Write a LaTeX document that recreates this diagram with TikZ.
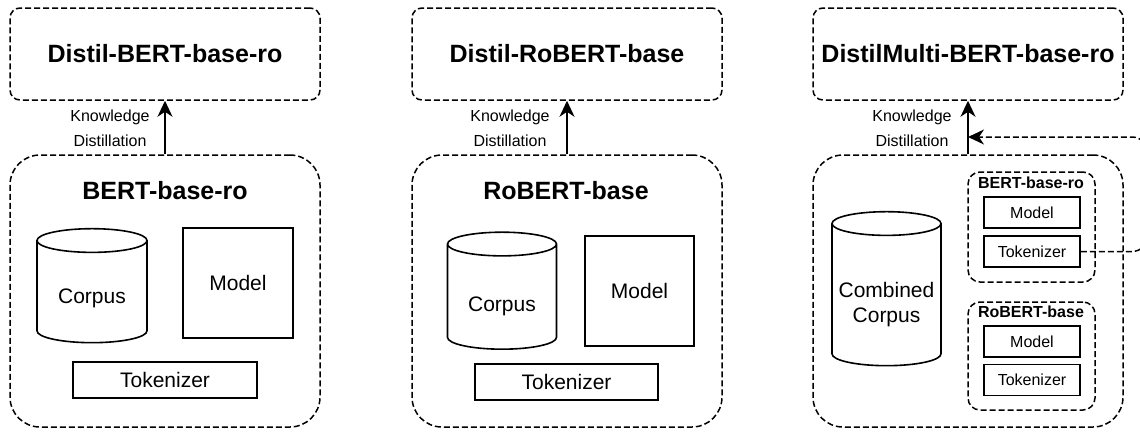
\documentclass[tikz,border=0pt]{standalone}
\usepackage{fontspec}
\setmainfont{Liberation Sans}
\usetikzlibrary{arrows.meta,positioning,shapes.geometric}

\tikzset{
  dashbox/.style={draw, dash pattern=on 6pt off 3pt, line width=1.5pt, inner sep=0pt},
  solidbox/.style={draw, line width=1.6pt, inner sep=0pt},
  kdarrow/.style={-{Stealth[length=16pt,width=15pt,inset=5pt]}, line width=1.8pt},
  bigtitle/.style={font=\fontsize{25}{30}\selectfont\bfseries},
  smalltitle/.style={font=\fontsize{16}{19}\selectfont\bfseries},
  bigtext/.style={font=\fontsize{21}{25}\selectfont},
  smalltext/.style={font=\fontsize{16}{19}\selectfont},
  dbstore/.style={solidbox, cylinder, shape border rotate=90, aspect=0.35, bigtext},
}

\begin{document}
\begin{tikzpicture}[x=1pt, y=-1pt]
\useasboundingbox (0,0) rectangle (1140,432);

% Teacher / student boxes
\node[dashbox, rounded corners=10pt, minimum width=310pt, minimum height=92pt, bigtitle] (dst1) at (165,54) {Distil-BERT-base-ro};
\node[dashbox, rounded corners=10pt, minimum width=310pt, minimum height=92pt, bigtitle] (dst2) at (567,54) {Distil-RoBERT-base};
\node[dashbox, rounded corners=10pt, minimum width=310pt, minimum height=92pt, bigtitle] (dst3) at (968,54) {DistilMulti-BERT-base-ro};

\node[dashbox, rounded corners=30pt, minimum width=310pt, minimum height=272pt] (src1) at (165,291) {};
\node[dashbox, rounded corners=30pt, minimum width=310pt, minimum height=272pt] (src2) at (567,291) {};
\node[dashbox, rounded corners=30pt, minimum width=310pt, minimum height=272pt] (src3) at (968,291) {};

% Panel 1
\node[bigtitle] (ttl1) at (165,191) {BERT-base-ro};
\node[dbstore, minimum width=110pt, minimum height=114pt, label={[bigtext, yshift=-6pt]center:Corpus}] (corpus1) at (92,292) {\phantom{Corpus}};
\node[solidbox, minimum width=110pt, minimum height=110pt, bigtext] (model1) at (238,283) {Model};
\node[solidbox, minimum width=184pt, minimum height=36pt, bigtext] (tok1) at (165,380) {Tokenizer};

% Panel 2
\node[bigtitle] (ttl2) at (566,191) {RoBERT-base};
\node[dbstore, minimum width=109pt, minimum height=117pt, label={[bigtext, yshift=-9pt]center:Corpus}] (corpus2) at (502,297) {\phantom{Corpus}};
\node[solidbox, minimum width=109pt, minimum height=110pt, bigtext] (model2) at (639.5,291) {Model};
\node[solidbox, minimum width=183pt, minimum height=36pt, bigtext] (tok2) at (566.5,382) {Tokenizer};

% Panel 3
\node[dbstore, minimum width=109pt, minimum height=154pt, label={[bigtext, align=center, yshift=-10pt]center:Combined\\Corpus}] (corpus3) at (886.5,295) {\phantom{Corpus}};
\node[dashbox, rounded corners=12pt, minimum width=127pt, minimum height=110pt] (grp1) at (1031.5,227) {};
\node[smalltitle] (gttl1) at (1031,183) {BERT-base-ro};
\node[solidbox, minimum width=96pt, minimum height=31pt, smalltext] (m31) at (1032,212.5) {Model};
\node[solidbox, minimum width=96pt, minimum height=31pt, smalltext] (t31) at (1032,251.5) {Tokenizer};
\node[dashbox, rounded corners=12pt, minimum width=127pt, minimum height=108pt] (grp2) at (1031.5,356) {};
\node[smalltitle] (gttl2) at (1031,312) {RoBERT-base};
\node[solidbox, minimum width=96pt, minimum height=31pt, smalltext] (m32) at (1032,341.5) {Model};
\node[solidbox, minimum width=96pt, minimum height=31pt, smalltext] (t32) at (1032,380) {Tokenizer};

% Knowledge distillation arrows
\draw[kdarrow] (src1.north) -- (dst1.south);
\draw[kdarrow] (src2.north) -- (dst2.south);
\draw[kdarrow] (src3.north) -- (dst3.south);
\node[smalltext, align=center] (kd1) at (110,128.5) {Knowledge\\[6pt]Distillation};
\node[smalltext, align=center] (kd2) at (510,128.5) {Knowledge\\[6pt]Distillation};
\node[smalltext, align=center] (kd3) at (912,128.5) {Knowledge\\[6pt]Distillation};

% Tokenizer feedback
\coordinate (fb) at (968,137);
\draw[kdarrow, line width=1.5pt, dash pattern=on 6pt off 3pt, rounded corners=16pt] (t31.east) -- (1148,251.5) -- (1148,137) -- (fb);
\end{tikzpicture}
\end{document}
